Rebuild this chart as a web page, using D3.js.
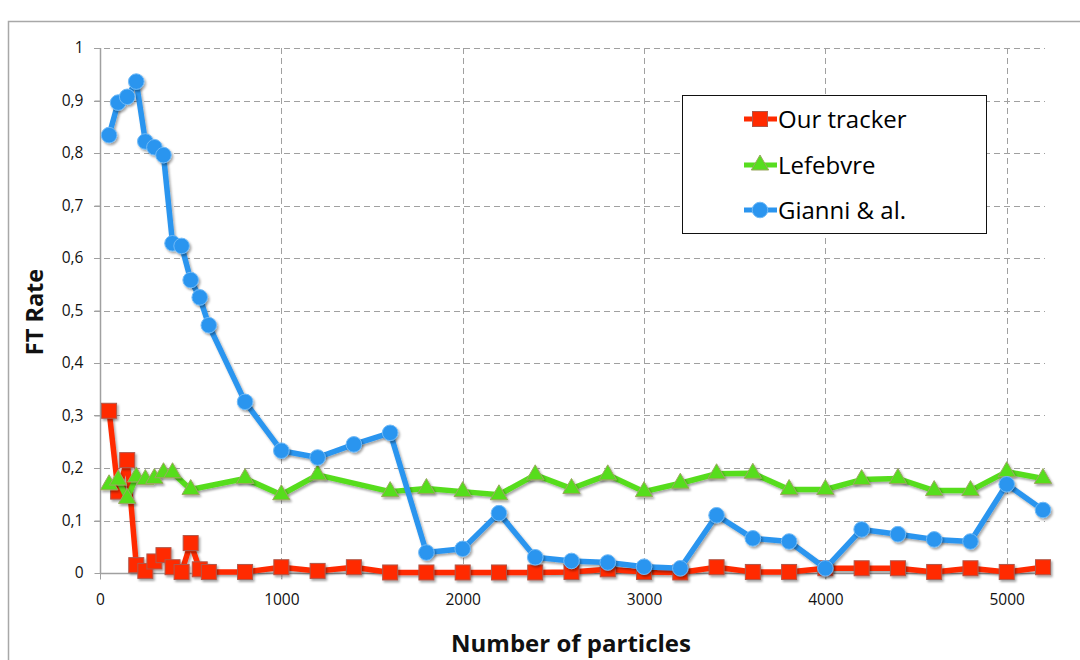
<!DOCTYPE html>
<html>
<head>
<meta charset="utf-8">
<script src="https://cdn.jsdelivr.net/npm/d3@7/dist/d3.min.js"></script>
<style>
  html, body { margin: 0; padding: 0; background: #fff; }
  svg { display: block; }
</style>
</head>
<body>
<svg id="chart" width="1080" height="660"></svg>
<script>
// ---- Data ----
const xTicks = [0, 1000, 2000, 3000, 4000, 5000];
const yTicks = [0, 0.1, 0.2, 0.3, 0.4, 0.5, 0.6, 0.7, 0.8, 0.9, 1];
const yTickLabels = ["0", "0,1", "0,2", "0,3", "0,4", "0,5", "0,6", "0,7", "0,8", "0,9", "1"];

const seriesNames = ["Our tracker", "Lefebvre", "Gianni & al."];

const trackerX = [50, 100, 150, 200, 250, 300, 350, 400, 450, 500, 550, 600, 800,
  1000, 1200, 1400, 1600, 1800, 2000, 2200, 2400, 2600, 2800, 3000, 3200, 3400,
  3600, 3800, 4000, 4200, 4400, 4600, 4800, 5000, 5200];
const trackerY = [0.309, 0.155, 0.215, 0.015, 0.004, 0.022, 0.034, 0.011, 0.002, 0.057, 0.007, 0.002, 0.002,
  0.011, 0.004, 0.011, 0.001, 0.001, 0.001, 0.001, 0.001, 0.002, 0.007, 0.002, 0.001, 0.011,
  0.002, 0.002, 0.009, 0.009, 0.009, 0.002, 0.009, 0.002, 0.011];

const lefebvreX = [50, 100, 150, 200, 250, 300, 350, 400, 500, 800,
  1000, 1200, 1600, 1800, 2000, 2200, 2400, 2600, 2800, 3000, 3200, 3400,
  3600, 3800, 4000, 4200, 4400, 4600, 4800, 5000, 5200];
const lefebvreY = [0.168, 0.177, 0.142, 0.183, 0.178, 0.180, 0.191, 0.191, 0.159, 0.180,
  0.149, 0.187, 0.155, 0.161, 0.155, 0.149, 0.187, 0.161, 0.187, 0.155, 0.171, 0.189,
  0.190, 0.159, 0.159, 0.178, 0.180, 0.157, 0.157, 0.193, 0.180];

const gianniX = [50, 100, 150, 200, 250, 300, 350, 400, 450, 500, 550, 600, 800,
  1000, 1200, 1400, 1600, 1800, 2000, 2200, 2400, 2600, 2800, 3000, 3200, 3400,
  3600, 3800, 4000, 4200, 4400, 4600, 4800, 5000, 5200];
const gianniY = [0.834, 0.896, 0.907, 0.936, 0.822, 0.811, 0.796, 0.628, 0.623, 0.558, 0.525, 0.472, 0.326,
  0.233, 0.220, 0.245, 0.267, 0.039, 0.046, 0.114, 0.030, 0.023, 0.020, 0.012, 0.009, 0.110,
  0.066, 0.060, 0.009, 0.083, 0.074, 0.064, 0.060, 0.169, 0.120];

// ---- Layout ----
const svg = d3.select("#chart");
const x = d3.scaleLinear().domain([0, 5200]).range([100, 1043]);
const y = d3.scaleLinear().domain([0, 1]).range([573, 48]);

const font = "'Open Sans', 'Noto Sans', sans-serif";

// drop shadow filter
const defs = svg.append("defs");
const f = defs.append("filter").attr("id", "shadow").attr("x", "-50%").attr("y", "-50%").attr("width", "200%").attr("height", "200%");
f.append("feDropShadow").attr("dx", 1.5).attr("dy", 2).attr("stdDeviation", 1.3)
  .attr("flood-color", "#000").attr("flood-opacity", 0.35);

// outer frame
svg.append("rect").attr("x", 8.5).attr("y", 21.5).attr("width", 1100).attr("height", 700)
  .attr("fill", "none").attr("stroke", "#a8a8a8").attr("stroke-width", 1.5);

// grid lines
const grid = svg.append("g");
grid.selectAll("line.h").data(yTicks.filter(d => d > 0)).join("line")
  .attr("x1", 94).attr("x2", 1045)
  .attr("y1", d => Math.round(y(d)) + 0.5).attr("y2", d => Math.round(y(d)) + 0.5)
  .attr("stroke", "#a0a0a0").attr("stroke-width", 1).attr("stroke-dasharray", "6,4");
grid.selectAll("line.v").data(xTicks.filter(d => d > 0)).join("line")
  .attr("x1", d => Math.round(x(d)) + 0.5).attr("x2", d => Math.round(x(d)) + 0.5)
  .attr("y1", 48).attr("y2", 579)
  .attr("stroke", "#a0a0a0").attr("stroke-width", 1).attr("stroke-dasharray", "6,4");

// axes
const yAxis = d3.axisLeft(y).tickValues(yTicks).tickSize(6).tickFormat((d, i) => yTickLabels[i]).tickPadding(11);
const gy = svg.append("g").attr("transform", "translate(100.5,0)").call(yAxis);
const xAxis = d3.axisBottom(x).tickValues(xTicks).tickSize(6).tickFormat(d3.format("d")).tickPadding(14);
const gx = svg.append("g").attr("transform", "translate(0,573.5)").call(xAxis);
[gx, gy].forEach(g => {
  g.select(".domain").attr("stroke", "#a0a0a0").attr("stroke-width", 1.5);
  g.selectAll(".tick line").attr("stroke", "#a0a0a0");
  g.selectAll(".tick text").attr("fill", "#111").attr("font-family", font).attr("font-size", 15.5);
});
gy.select(".domain").attr("d", "M0,48V573");
gx.select(".domain").attr("d", "M100,0H1045");

// axis titles
svg.append("text").attr("x", 571).attr("y", 652).attr("text-anchor", "middle")
  .attr("font-family", font).attr("font-weight", "bold").attr("font-size", 24).attr("fill", "#111")
  .text("Number of particles");
svg.append("text").attr("transform", "translate(43,312) rotate(-90)").attr("text-anchor", "middle")
  .attr("font-family", font).attr("font-weight", "bold").attr("font-size", 23.5).attr("fill", "#111")
  .text("FT Rate");

// series
const colors = { red: "#ff2a00", green: "#57dd1f", blue: "#2b95ef" };
const series = [
  { name: seriesNames[0], xs: trackerX, ys: trackerY, color: colors.red, marker: "square", stroke: "#b0584a" },
  { name: seriesNames[1], xs: lefebvreX, ys: lefebvreY, color: colors.green, marker: "triangle", stroke: "#9aa860" },
  { name: seriesNames[2], xs: gianniX, ys: gianniY, color: colors.blue, marker: "circle", stroke: "#6fb9f6" }
];

const line = d3.line().x(d => x(d[0])).y(d => y(d[1]));

function drawMarker(g, type, cx, cy, s) {
  if (type === "square") {
    g.append("rect").attr("x", cx - 7.5).attr("y", cy - 7.5).attr("width", 15).attr("height", 15)
      .attr("fill", s.color).attr("stroke", s.stroke).attr("stroke-width", 1);
  } else if (type === "circle") {
    g.append("circle").attr("cx", cx).attr("cy", cy).attr("r", 7.8)
      .attr("fill", s.color).attr("stroke", s.stroke).attr("stroke-width", 1);
  } else {
    const sym = d3.symbol().type(d3.symbolTriangle).size(130);
    g.append("path").attr("d", sym()).attr("transform", `translate(${cx},${cy})`)
      .attr("fill", s.color).attr("stroke", s.stroke).attr("stroke-width", 1);
  }
}

series.forEach(s => {
  const pts = s.xs.map((v, i) => [v, s.ys[i]]);
  const g = svg.append("g");
  g.append("path").datum(pts).attr("d", line).attr("fill", "none")
    .attr("stroke", s.color).attr("stroke-width", 5.5).attr("stroke-linejoin", "round")
    .attr("filter", "url(#shadow)");
  const mg = g.append("g").attr("filter", "url(#shadow)");
  pts.forEach(p => drawMarker(mg, s.marker, x(p[0]), y(p[1]), s));
});

// legend
const lg = svg.append("g");
lg.append("rect").attr("x", 682.5).attr("y", 95.5).attr("width", 304).attr("height", 138)
  .attr("fill", "#fff").attr("stroke", "#111").attr("stroke-width", 1);
const rowY = [119, 165, 210];
series.forEach((s, i) => {
  const gy2 = rowY[i];
  lg.append("line").attr("x1", 744).attr("x2", 777).attr("y1", gy2).attr("y2", gy2)
    .attr("stroke", s.color).attr("stroke-width", 5);
  drawMarker(lg, s.marker, 760, gy2, s);
  lg.append("text").attr("x", 778).attr("y", gy2 + 9).attr("font-family", font)
    .attr("font-size", 24).attr("fill", "#000").text(s.name);
});
</script>
</body>
</html>
